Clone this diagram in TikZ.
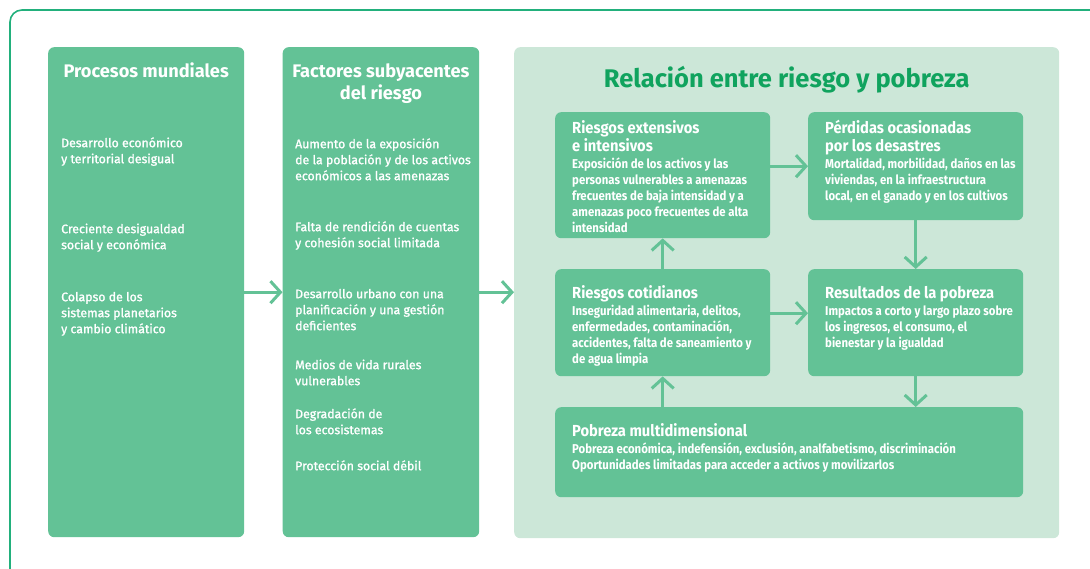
\documentclass[tikz,border=0pt]{standalone}
\usepackage{fontspec}
\usepackage{xcolor,tikz}
\usetikzlibrary{arrows.meta}
\setmainfont{Fira Sans}[UprightFeatures={FakeBold=1.3}]
\newfontfamily\condfont[FakeStretch=0.89]{Fira Sans}
\newfontfamily\headfont[FakeStretch=0.92]{Fira Sans}
\definecolor{boxgreen}{HTML}{63C296}
\definecolor{tint}{HTML}{CCE7D8}
\definecolor{titlegreen}{HTML}{10A35E}
\definecolor{framegreen}{HTML}{22B07C}
\tikzset{
  colbox/.style={fill=boxgreen,rounded corners=6pt,inner sep=0pt,anchor=north west,text=white},
  riskbox/.style={fill=boxgreen,rounded corners=6pt,inner sep=0pt,anchor=north west,text=white},
  link/.style={draw=boxgreen,line width=3pt,-{Straight Barb[length=10pt,width=22pt]}},
}
\newcommand\colhead{\fontsize{18.2}{22}\selectfont\bfseries\centering}
\newcommand\colbody[1]{\fontsize{12.3}{16}\selectfont\mdseries\raggedright\leftskip=#1}
\newcommand\riskhead{\fontsize{16}{18}\selectfont\headfont\bfseries\raggedright\leftskip=17pt}
\newcommand\riskbody{\fontsize{12.8}{16}\selectfont\condfont\bfseries\raggedright\leftskip=17pt}

\begin{document}
\begin{tikzpicture}[x=1pt,y=-1pt]
\useasboundingbox (0,0) rectangle (1090,569);
% frame, open at the right and at the bottom
\draw[framegreen,line width=1.6pt,rounded corners=12pt] (10,570) -- (10,10) -- (1091,10);

\node[colbox] (mundo) at (48,47) {\parbox[t][490pt][t]{196pt}{\prevdepth=0pt\vspace*{8pt}%
{\colhead Procesos mundiales\par}\vspace{54pt}
{\colbody{13pt} Desarrollo económico\\y territorial desigual\par}\vspace{54pt}
{\colbody{13pt} Creciente desigualdad\\social y económica\par}\vspace{36pt}
{\colbody{13pt} Colapso de los\\sistemas planetarios\\y cambio climático\par}}};

\node[colbox] (factores) at (282.5,47) {\parbox[t][490pt][t]{196.5pt}{\prevdepth=0pt\vspace*{8pt}%
{\colhead Factores subyacentes\\del riesgo\par}\vspace{33pt}
{\colbody{12.5pt} Aumento de la exposición\\de la población y de los activos\\económicos a las amenazas\par}\vspace{35pt}
{\colbody{12.5pt} Falta de rendición de cuentas\\y cohesión social limitada\par}\vspace{35pt}
{\colbody{12.5pt} Desarrollo urbano con una\\planificación y una gestión\\deficientes\par}\vspace{23pt}
{\colbody{12.5pt} Medios de vida rurales\\vulnerables\par}\vspace{17pt}
{\colbody{12.5pt} Degradación de\\los ecosistemas\par}\vspace{20pt}
{\colbody{12.5pt} Protección social débil\par}}};

\node[fill=tint,rounded corners=6pt,inner sep=0pt,anchor=north west] (relacion) at (514,47) {\parbox[t][491pt][t]{545pt}{\prevdepth=0pt\vspace*{13pt}%
{\fontsize{25.5}{27}\selectfont\bfseries\centering\color{titlegreen}Relación entre riesgo y pobreza\par}}};

% boxes inside the panel
\node[riskbox] (extensivos) at (555,112) {\parbox[t][126pt][t]{215pt}{\prevdepth=0pt\vspace*{3pt}%
{\riskhead Riesgos extensivos\\e intensivos\par}\vspace{1pt}
{\riskbody Exposición de los activos y las\\personas vulnerables a amenazas\\frecuentes de baja intensidad y a\\amenazas poco frecuentes de alta\\intensidad\par}}};
\node[riskbox] (perdidas) at (808,112) {\parbox[t][108pt][t]{215pt}{\prevdepth=0pt\vspace*{3pt}%
{\riskhead Pérdidas ocasionadas\\por los desastres\par}\vspace{1pt}
{\riskbody Mortalidad, morbilidad, daños en las\\viviendas, en la infraestructura\\local, en el ganado y en los cultivos\par}}};
\node[riskbox] (cotidianos) at (555,269) {\parbox[t][107pt][t]{215pt}{\prevdepth=0pt\vspace*{11pt}%
{\riskhead Riesgos cotidianos\par}\vspace{1pt}
{\riskbody Inseguridad alimentaria, delitos,\\enfermedades, contaminación,\\accidentes, falta de saneamiento y\\de agua limpia\par}}};
\node[riskbox] (resultados) at (808,269) {\parbox[t][107pt][t]{215pt}{\prevdepth=0pt\vspace*{11pt}%
{\riskhead Resultados de la pobreza\par}\vspace{1pt}
{\riskbody Impactos a corto y largo plazo sobre\\los ingresos, el consumo, el\\bienestar y la igualdad\par}}};
\node[riskbox] (multidim) at (555,407) {\parbox[t][90pt][t]{468pt}{\prevdepth=0pt\vspace*{11pt}%
{\riskhead Pobreza multidimensional\par}\vspace{1pt}
{\riskbody Pobreza económica, indefensión, exclusión, analfabetismo, discriminación\\Oportunidades limitadas para acceder a activos y movilizarlos\par}}};

% connectors
\draw[link] (mundo) -- (factores);
\draw[link] (factores.east) -- (factores.east -| relacion.west);
\draw[link] (extensivos.east |- perdidas.west) -- (perdidas.west);
\draw[link] (perdidas) -- (resultados);
\draw[link] (cotidianos) -- (extensivos);
\draw[link] ([yshift=9.5pt]cotidianos.east) -- ([yshift=9.5pt]resultados.west);
\draw[link] (multidim.north -| cotidianos) -- (cotidianos.south);
\draw[link] (resultados.south) -- (resultados.south |- multidim.north);
\end{tikzpicture}
\end{document}
